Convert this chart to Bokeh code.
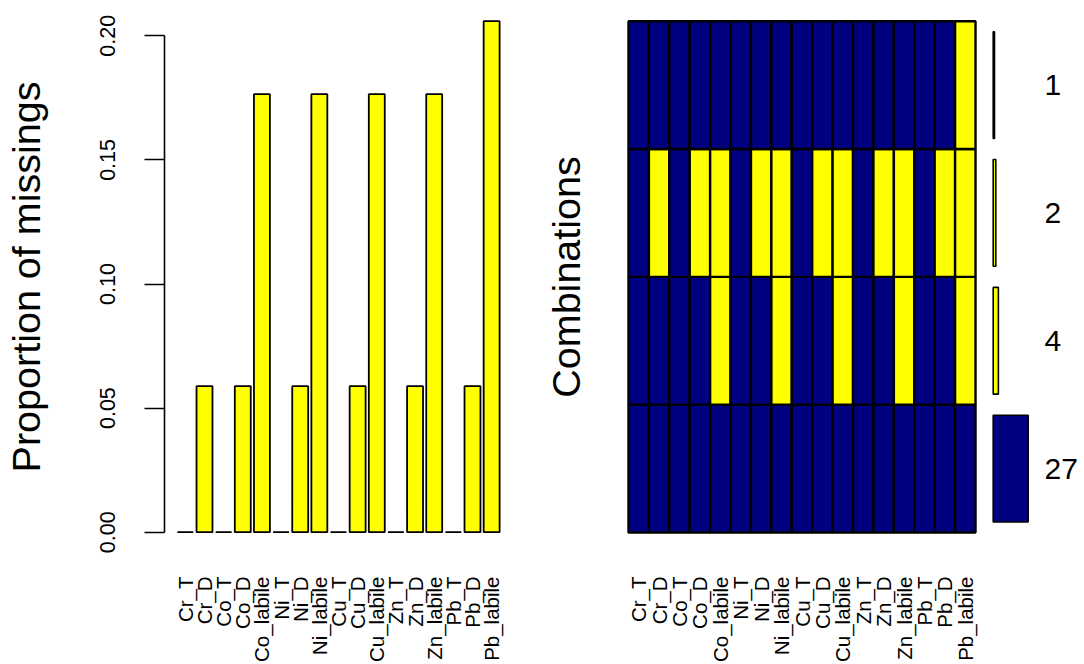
import math
from bokeh.plotting import figure
from bokeh.layouts import row
from bokeh.models import Range1d, FixedTicker, LinearAxis, ColumnDataSource, NumeralTickFormatter
from bokeh.embed import file_html
from bokeh.resources import INLINE

# ---------------- data ----------------
variables = ["Cr_T", "Cr_D", "Co_T", "Co_D", "Co_labile", "Ni_T", "Ni_D", "Ni_labile",
             "Cu_T", "Cu_D", "Cu_labile", "Zn_T", "Zn_D", "Zn_labile", "Pb_T", "Pb_D", "Pb_labile"]
n_obs = 34
missing_counts = [0, 2, 0, 2, 6, 0, 2, 6, 0, 2, 6, 0, 2, 6, 0, 2, 7]
y_ticks = [0.00, 0.05, 0.10, 0.15, 0.20]

# missing-value combinations, listed bottom to top (1 = missing)
combo_patterns = [
    "00000000000000000",
    "00001001001001001",
    "01011011011011011",
    "00000000000000001",
]
combo_counts = [27, 4, 2, 1]

NAVY = "#000080"
YELLOW = "#FFFF00"
FONT = "Liberation Sans"
VAR_FS = "20.5px"
TICK_FS = "21.5px"
LAB_FS = "39.5px"

prop_missing = [c / n_obs for c in missing_counts]
n_var = len(variables)

H = 664
MB_TOP = 19
MB_BOT = 130
X_STANDOFF = 42

# ---------------- left panel: proportion of missings ----------------
bar_x = [round(0.7 + 1.2 * i, 6) for i in range(n_var)]
pA = figure(width=540, height=H, title=None,
            x_range=Range1d(-0.608, 21.208), y_range=Range1d(-0.000927, 0.20657),
            x_axis_type=None, y_axis_type=None,
            output_backend="svg", toolbar_location=None,
            min_border_left=163, min_border_right=28, min_border_top=MB_TOP, min_border_bottom=MB_BOT)
pA.outline_line_color = None
pA.grid.visible = False
srcA = ColumnDataSource(dict(x=bar_x, top=prop_missing))
pA.vbar(x="x", top="top", bottom=0, width=1.0, source=srcA,
        fill_color=YELLOW, line_color="black", line_width=1.8)

yax = LinearAxis(ticker=FixedTicker(ticks=y_ticks, minor_ticks=[]), bounds=(0, 0.2),
                 formatter=NumeralTickFormatter(format="0.00"))
yax.major_tick_out = 20
yax.major_tick_in = 0
yax.major_tick_line_width = 1.6
yax.axis_line_width = 1.6
yax.axis_line_color = "black"
yax.major_tick_line_color = "black"
yax.minor_tick_line_color = None
yax.major_label_orientation = "parallel"
yax.major_label_standoff = 29
yax.major_label_text_font = FONT
yax.major_label_text_font_size = TICK_FS
yax.major_label_text_color = "black"
yax.axis_label = "Proportion of missings"
yax.axis_label_text_font = FONT
yax.axis_label_text_font_size = LAB_FS
yax.axis_label_text_font_style = "normal"
yax.axis_label_text_color = "black"
yax.axis_label_standoff = 50
pA.add_layout(yax, "left")

xaxA = LinearAxis(ticker=FixedTicker(ticks=bar_x, minor_ticks=[]),
                  major_label_overrides={x: v for x, v in zip(bar_x, variables)})
xaxA.axis_line_color = None
xaxA.major_tick_line_color = None
xaxA.minor_tick_line_color = None
xaxA.major_tick_out = 0
xaxA.major_tick_in = 0
xaxA.major_label_orientation = math.pi / 2
xaxA.major_label_standoff = X_STANDOFF
xaxA.major_label_text_font = FONT
xaxA.major_label_text_font_size = VAR_FS
xaxA.major_label_text_color = "black"
pA.add_layout(xaxA, "below")

# ---------------- middle panel: combinations matrix ----------------
pB = figure(width=440, height=H, title=None,
            x_range=Range1d(-0.0974, 17.0974), y_range=Range1d(-0.01565, 4.0133),
            x_axis_type=None, y_axis_type=None,
            output_backend="svg", toolbar_location=None,
            min_border_left=84, min_border_right=3, min_border_top=MB_TOP, min_border_bottom=MB_BOT)
pB.outline_line_color = None
pB.grid.visible = False
cx, cy, cc = [], [], []
for r, pat in enumerate(combo_patterns):
    for j, ch in enumerate(pat):
        cx.append(j + 0.5)
        cy.append(r + 0.5)
        cc.append(YELLOW if ch == "1" else NAVY)
pB.rect(x=cx, y=cy, width=1, height=1, fill_color=cc, line_color="black", line_width=2.4)

col_x = [j + 0.5 for j in range(n_var)]
xaxB = LinearAxis(ticker=FixedTicker(ticks=col_x, minor_ticks=[]),
                  major_label_overrides={x: v for x, v in zip(col_x, variables)})
xaxB.axis_line_color = None
xaxB.major_tick_line_color = None
xaxB.minor_tick_line_color = None
xaxB.major_tick_out = 0
xaxB.major_tick_in = 0
xaxB.major_label_orientation = math.pi / 2
xaxB.major_label_standoff = X_STANDOFF
xaxB.major_label_text_font = FONT
xaxB.major_label_text_font_size = VAR_FS
xaxB.major_label_text_color = "black"
pB.add_layout(xaxB, "below")

yaxB = LinearAxis(ticker=FixedTicker(ticks=[], minor_ticks=[]))
yaxB.axis_line_color = None
yaxB.major_tick_line_color = None
yaxB.minor_tick_line_color = None
yaxB.major_tick_out = 0
yaxB.major_tick_in = 0
yaxB.major_label_standoff = 0
yaxB.axis_label = "Combinations"
yaxB.axis_label_text_font = FONT
yaxB.axis_label_text_font_size = LAB_FS
yaxB.axis_label_text_font_style = "normal"
yaxB.axis_label_text_color = "black"
yaxB.axis_label_standoff = 39
pB.add_layout(yaxB, "left")

# ---------------- right panel: combination frequencies ----------------
pC = figure(width=104, height=H, title=None,
            x_range=Range1d(-1.31, 30.32), y_range=Range1d(-0.01565, 4.0133),
            x_axis_type=None, y_axis_type=None,
            output_backend="svg", toolbar_location=None,
            min_border_left=11, min_border_right=52, min_border_top=MB_TOP, min_border_bottom=MB_BOT)
pC.outline_line_color = None
pC.grid.visible = False
row_y = [r + 0.5 for r in range(len(combo_counts))]
bar_cols = [NAVY if set(p) == {"0"} else YELLOW for p in combo_patterns]
pC.hbar(y=row_y, left=0, right=combo_counts, height=0.835,
        fill_color=bar_cols, line_color="black", line_width=1.6)

raxC = LinearAxis(ticker=FixedTicker(ticks=row_y, minor_ticks=[]),
                  major_label_overrides={y: str(c) for y, c in zip(row_y, combo_counts)})
raxC.axis_line_color = None
raxC.major_tick_line_color = None
raxC.minor_tick_line_color = None
raxC.major_tick_out = 0
raxC.major_tick_in = 0
raxC.major_label_standoff = 12
raxC.major_label_text_font = FONT
raxC.major_label_text_font_size = "30px"
raxC.major_label_text_color = "black"
pC.add_layout(raxC, "right")

layout = row(pA, pB, pC)
open("out.html", "w").write(file_html(layout, INLINE))
